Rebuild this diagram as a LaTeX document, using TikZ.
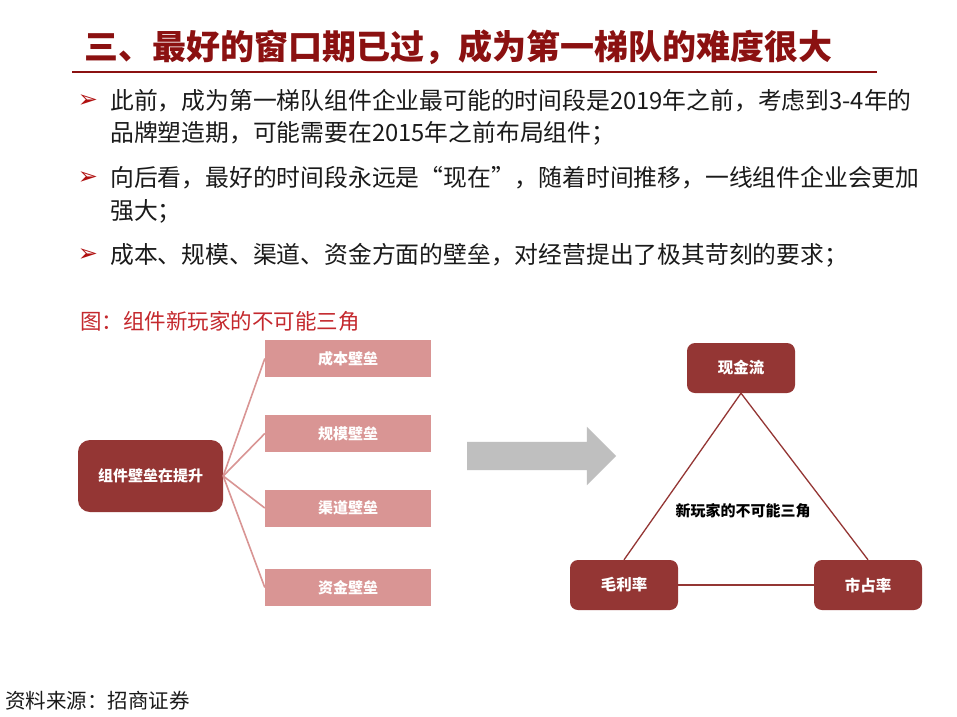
\documentclass[tikz,border=0pt]{standalone}
\usepackage{fontspec}
\setmainfont{Noto Sans CJK SC}
\newfontfamily\symfont{DejaVu Sans}
\usetikzlibrary{positioning, shapes.arrows}

\definecolor{titlered}{HTML}{8B1111}
\definecolor{captionred}{HTML}{C4282D}
\definecolor{bulletred}{HTML}{B01010}
\definecolor{bodytext}{HTML}{1A1A1A}
\definecolor{boxred}{HTML}{943634}
\definecolor{boxpink}{HTML}{D99594}
\definecolor{arrowgray}{HTML}{BFBFBF}

\begin{document}
\begin{tikzpicture}[
    x=1pt, y=-1pt,
    font=\fontsize{15}{18}\selectfont,
    % Styles
    heading/.style={anchor=west, inner sep=0pt, text=titlered, font=\fontsize{34}{40}\selectfont\bfseries},
    bullettext/.style={anchor=west, inner sep=0pt, text=bodytext, font=\fontsize{23.8}{28}\selectfont},
    bulletmark/.style={inner sep=0pt, text=bulletred, font=\symfont\fontsize{24}{26}\selectfont},
    caption/.style={anchor=west, inner sep=0pt, text=captionred, font=\fontsize{21.5}{24}\selectfont},
    hub/.style={fill=boxred, rounded corners=12pt, minimum width=145pt, minimum height=72pt, text=white, font=\fontsize{15}{18}\selectfont\bfseries},
    wall/.style={fill=boxpink, minimum width=166pt, minimum height=37pt, text=white, font=\fontsize{15}{18}\selectfont\bfseries},
    corner/.style={fill=boxred, rounded corners=8pt, minimum width=108pt, minimum height=50pt, text=white, font=\fontsize{15.5}{18}\selectfont\bfseries},
    bigarrow/.style={single arrow, fill=arrowgray, minimum height=149pt, text height=28pt, text depth=0pt, single arrow head extend=15pt, single arrow head indent=0pt, inner sep=0pt},
    spoke/.style={draw=boxpink, line width=1.6pt},
    trilink/.style={draw=boxred, line width=1.3pt},
    source/.style={anchor=west, inner sep=0pt, text=bodytext, font=\fontsize{20.5}{22}\selectfont}
]

\fill[white] (0,0) rectangle (957,716);
\useasboundingbox (0,0) rectangle (957,716);

% 1. Title
\node[heading] (title) at (84,47) {三、最好的窗口期已过，成为第一梯队的难度很大};
\coordinate (ruleL) at (72,72);
\coordinate (ruleR) at (877,72);
\draw[titlered, line width=1.5pt] (ruleL) -- (ruleR);

% 2. Bullets
\node[bulletmark] (mark1) at (88,101) {➢};
\node[bullettext] (line1a) at (110,101) {此前，成为第一梯队组件企业最可能的时间段是2019年之前，考虑到3-4年的};
\node[bullettext] (line1b) at (110,133) {品牌塑造期，可能需要在2015年之前布局组件；};
\node[bulletmark] (mark2) at (88,178) {➢};
\node[bullettext] (line2a) at (110,178) {向后看，最好的时间段永远是“现在”，随着时间推移，一线组件企业会更加};
\node[bullettext] (line2b) at (110,211) {强大；};
\node[bulletmark] (mark3) at (88,255) {➢};
\node[bullettext] (line3a) at (110,255) {成本、规模、渠道、资金方面的壁垒，对经营提出了极其苛刻的要求；};

% 3. Figure caption
\node[caption] (figcap) at (80,321) {图：组件新玩家的不可能三角};

% 4. Barriers
\node[hub] (hub) at (150.5,476) {组件壁垒在提升};
\node[wall] (cost) at (348,358.5) {成本壁垒};
\node[wall] (scale) at (348,433.5) {规模壁垒};
\node[wall] (channel) at (348,508) {渠道壁垒};
\node[wall] (capital) at (348,587.5) {资金壁垒};

\draw[spoke] (hub.east) -- (cost.west);
\draw[spoke] (hub.east) -- (scale.west);
\draw[spoke] (hub.east) -- (channel.west);
\draw[spoke] (hub.east) -- (capital.west);

% 5. Shift arrow
\node[bigarrow] (shift) at (534.5,456) {};

% 6. Impossible triangle
\node[corner] (cash) at (741,368) {现金流};
\node[corner] (margin) at (624,585) {毛利率};
\node[corner] (share) at (868,585) {市占率};
\node[font=\fontsize{15}{18}\selectfont\bfseries, text=black] (trilemma) at (743,511) {新玩家的不可能三角};

\draw[trilink] (cash.south) -- (margin.north);
\draw[trilink] (cash.south) -- (share.north);
\draw[trilink] (margin.east) -- (share.west);

% 7. Source
\node[source] (src) at (5,701) {资料来源：招商证券};

\end{tikzpicture}
\end{document}
